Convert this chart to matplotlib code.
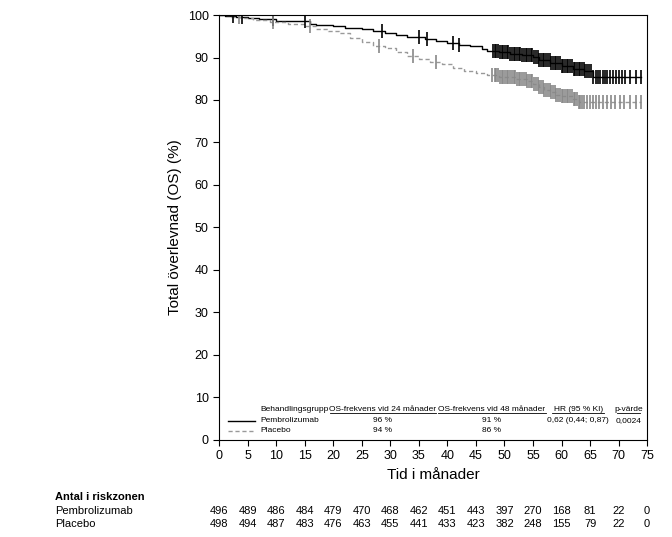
import numpy as np
import matplotlib.pyplot as plt

plt.rcParams['font.family'] = ['Liberation Sans', 'DejaVu Sans']

# Kaplan-Meier step points (month, %)
pembro_t = [0, 1, 3, 5, 7, 10, 13, 16, 17, 20, 22, 25, 27, 29, 31, 33, 36, 38, 40, 42, 44, 46, 47,
            49, 51, 53, 55, 56, 58, 60, 62, 64, 65.5, 74]
pembro_s = [100, 99.8, 99.5, 99.2, 99.0, 98.7, 98.5, 98.0, 97.7, 97.5, 97.0, 96.6, 96.2, 95.7, 95.2,
            94.9, 94.4, 93.8, 93.4, 93.0, 92.6, 92.0, 91.6, 91.3, 90.9, 90.5, 90.1, 89.3, 88.6, 88.0,
            87.4, 86.8, 85.4, 85.4]
placebo_t = [0, 2, 4, 6, 9, 12, 15, 17, 19, 21, 23, 25, 27, 29, 31, 33, 35, 37, 39, 41, 43, 45, 47,
             49, 52, 54, 55, 56, 57, 58, 59, 60, 62, 63, 74]
placebo_s = [100, 99.6, 99.2, 98.8, 98.4, 98.0, 97.4, 96.6, 96.3, 95.8, 94.6, 93.6, 92.8, 92.2, 91.3,
             90.4, 89.6, 89.0, 88.4, 87.5, 86.9, 86.4, 86.0, 85.5, 85.0, 84.5, 83.8, 83.0, 82.4, 81.8,
             81.2, 80.9, 80.2, 79.5, 79.5]

# censoring times (months)
pembro_cens = [2.5, 4, 9.5, 15, 28.5, 35, 36.5, 41, 42, 48, 48.3, 48.6, 48.9, 49.2, 49.5, 49.8, 50.1,
               50.4, 50.7, 51, 51.3, 51.6, 51.9, 52.2, 52.5, 52.8, 53.1, 53.4, 53.7, 54, 54.3, 54.6,
               54.9, 55.2, 55.5, 55.8, 56.1, 56.4, 56.7, 57, 57.3, 57.6, 57.9, 58.2, 58.5, 58.8, 59.1,
               59.4, 59.7, 60, 60.3, 60.6, 60.9, 61.2, 61.5, 61.8, 62.1, 62.4, 62.7, 63, 63.3, 63.6,
               63.9, 64.2, 64.5, 64.8, 65.2, 65.6, 66, 66.4, 66.8, 67.2, 67.6, 68, 68.5, 69, 69.5, 70,
               70.6, 71.2, 72, 73, 74]
placebo_cens = [3.5, 9.5, 16, 28, 34, 38, 47.8, 48.3, 48.6, 48.9, 49.2, 49.5, 49.8, 50.1, 50.4, 50.7,
                51, 51.3, 51.6, 51.9, 52.2, 52.5, 52.8, 53.1, 53.4, 53.7, 54, 54.3, 54.6, 54.9, 55.2,
                55.5, 55.8, 56.1, 56.4, 56.7, 57, 57.3, 57.6, 57.9, 58.2, 58.5, 58.8, 59.1, 59.4, 59.7,
                60, 60.3, 60.6, 60.9, 61.2, 61.5, 61.8, 62.1, 62.4, 62.7, 63, 63.3, 63.6, 64, 64.5, 65,
                65.5, 66, 66.6, 67.2, 68, 68.7, 69.4, 70.2, 71, 72, 73, 74]

risk_times = [0, 5, 10, 15, 20, 25, 30, 35, 40, 45, 50, 55, 60, 65, 70, 75]
risk_pembro = [496, 489, 486, 484, 479, 470, 468, 462, 451, 443, 397, 270, 168, 81, 22, 0]
risk_placebo = [498, 494, 487, 483, 476, 463, 455, 441, 433, 423, 382, 248, 155, 79, 22, 0]


def surv_at(t, times, surv):
    idx = np.searchsorted(times, t, side='right') - 1
    return np.array(surv)[idx]


fig = plt.figure(figsize=(6.72, 5.37), dpi=100)
ax = fig.add_axes([0.326, 0.181, 0.637, 0.791])

ax.step(pembro_t, pembro_s, where='post', color='black', lw=1)
ax.step(placebo_t, placebo_s, where='post', color='#999999', lw=1, ls=(0, (3, 2)))
ax.plot(pembro_cens, surv_at(pembro_cens, pembro_t, pembro_s), ls='none', marker='|',
        ms=10, mew=1.2, color='black')
ax.plot(placebo_cens, surv_at(placebo_cens, placebo_t, placebo_s), ls='none', marker='|',
        ms=10, mew=1.2, color='#888888')

ax.set_xlim(0, 75)
ax.set_ylim(0, 100)
ax.set_xticks(range(0, 76, 5))
ax.set_yticks(range(0, 101, 10))
ax.tick_params(labelsize=9, direction='out', length=4)
ax.set_xlabel('Tid i månader', fontsize=11)
ax.set_ylabel('Total överlevnad (OS) (%)', fontsize=11)

# legend / statistics table inside plot
fs = 6
cols = [(7.2, 'Behandlingsgrupp', 'left'), (28.7, 'OS-frekvens vid 24 månader', 'center'),
        (47.8, 'OS-frekvens vid 48 månader', 'center'), (62.9, 'HR (95 % KI)', 'center'),
        (71.8, 'p-värde', 'center')]
for x, txt, ha in cols:
    ax.text(x, 7.1, txt, fontsize=fs, ha=ha, va='center')
for x0, x1 in [(19.5, 38.0), (38.4, 57.3), (58.4, 67.4), (69.8, 73.8)]:
    ax.plot([x0, x1], [6.2, 6.2], color='black', lw=0.6)
ax.plot([1.6, 6.3], [4.5, 4.5], color='black', lw=1)
ax.plot([1.6, 6.3], [2.1, 2.1], color='#999999', lw=1, ls=(0, (3, 2)))
rows = [(4.5, ['Pembrolizumab', '96 %', '91 %', '0,62 (0,44; 0,87)', '0,0024']),
        (2.1, ['Placebo', '94 %', '86 %', '', ''])]
for y, vals in rows:
    for (x, _, ha), v in zip(cols, vals):
        ax.text(x, y, v, fontsize=fs, ha=ha, va='center')

# number at risk table
fig.text(55 / 672, 1 - 497 / 537, 'Antal i riskzonen', fontsize=8, fontweight='bold', va='center')
fig.text(55 / 672, 1 - 511 / 537, 'Pembrolizumab', fontsize=8, va='center')
fig.text(55 / 672, 1 - 524 / 537, 'Placebo', fontsize=8, va='center')
trans = ax.get_xaxis_transform()
for t, a, b in zip(risk_times, risk_pembro, risk_placebo):
    ax.text(t, -(511 - 440) / (440 - 15), str(a), transform=trans, fontsize=8, ha='center',
            va='center', clip_on=False)
    ax.text(t, -(524 - 440) / (440 - 15), str(b), transform=trans, fontsize=8, ha='center',
            va='center', clip_on=False)

fig.savefig('out.png', dpi=100)
